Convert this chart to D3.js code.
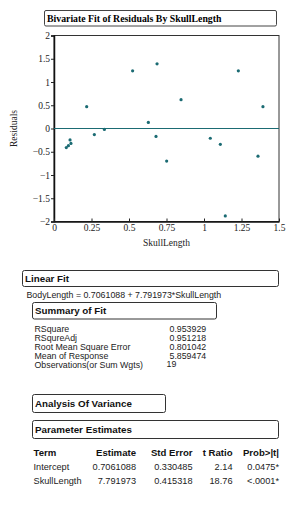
<!DOCTYPE html>
<html>
<head>
<meta charset="utf-8">
<script src="https://cdn.jsdelivr.net/npm/d3@7"></script>
<style>
  body { margin: 0; background: #fff; }
  .serif { font-family: "Liberation Serif", "Times New Roman", serif; }
  .narrow { font-family: "Liberation Sans Narrow", "Arial Narrow", "Liberation Sans", sans-serif; }
</style>
</head>
<body>
<div id="chart"></div>
<script>
// residual plot data
const skullLength = [0.082, 0.096, 0.107, 0.113, 0.218, 0.269, 0.336, 0.524, 0.629, 0.68,
  0.687, 0.751, 0.847, 1.042, 1.109, 1.142, 1.229, 1.36, 1.393]
const residuals = [-0.41, -0.37, -0.245, -0.32, 0.47, -0.13, -0.02, 1.24, 0.13, -0.17,
  1.39, -0.70, 0.62, -0.21, -0.34, -1.88, 1.24, -0.595, 0.47]
const xTicks = [0, 0.25, 0.5, 0.75, 1, 1.25, 1.5]
const yTicks = [-2, -1.5, -1, -0.5, 0, 0.5, 1, 1.5, 2]

// report text
const equation = "BodyLength = 0.7061088 + 7.791973*SkullLength"
const summaryLabels = ["RSquare", "RSqureAdj", "Root Mean Square Error", "Mean of Response", "Observations(or Sum Wgts)"]
const summaryValues = ["0.953929", "0.951218", "0.801042", "5.859474", "19"]
const paramHeader = ["Term", "Estimate", "Std Error", "t Ratio", "Prob>|t|"]
const paramTerms = ["Intercept", "SkullLength"]
const paramEstimate = ["0.7061088", "7.791973"]
const paramStdError = ["0.330485", "0.415318"]
const paramTRatio = ["2.14", "18.76"]
const paramProb = ["0.0475*", "<.0001*"]

const teal = "#1b6b73"

const svg = d3.select("#chart").append("svg")
  .attr("width", 306)
  .attr("height", 507)

// ---- title box
svg.append("rect")
  .attr("x", 44.5).attr("y", 10.5)
  .attr("width", 232).attr("height", 15.5)
  .attr("rx", 1.5)
  .attr("fill", "none").attr("stroke", "#444").attr("stroke-width", 1)
svg.append("text")
  .attr("class", "serif")
  .attr("x", 47).attr("y", 21.5)
  .attr("font-size", 9.8).attr("font-weight", "bold")
  .text("Bivariate Fit of Residuals By SkullLength")

// ---- scatter
const plot = { left: 54, right: 279, top: 35.5, bottom: 221.5 }
const xScale = d3.scaleLinear().domain([0, 1.5]).range([plot.left, plot.right])
const yScale = d3.scaleLinear().domain([-2, 2]).range([plot.bottom, plot.top])

svg.append("rect")
  .attr("x", plot.left).attr("y", plot.top)
  .attr("width", plot.right - plot.left).attr("height", plot.bottom - plot.top)
  .attr("fill", "none").attr("stroke", "#333").attr("stroke-width", 1)

const fmt = d => (d < 0 ? "\u2212" : "") + String(Math.abs(d))

const yAxis = svg.append("g")
  .attr("transform", `translate(${plot.left},0)`)
  .call(d3.axisLeft(yScale).tickValues(yTicks).tickSize(3).tickPadding(1).tickFormat(fmt))
yAxis.select(".domain").attr("stroke", "#111").attr("stroke-width", 1.5)
yAxis.selectAll("text").attr("class", "serif").attr("font-size", 9.5).attr("fill", "#222")
yAxis.selectAll(".tick line").attr("stroke", "#222")

const xAxis = svg.append("g")
  .attr("transform", `translate(0,${plot.bottom})`)
  .call(d3.axisBottom(xScale).tickValues(xTicks).tickSizeInner(-3).tickSizeOuter(0).tickPadding(3).tickFormat(d3.format("")))
xAxis.select(".domain").attr("stroke", "#111").attr("stroke-width", 1.5)
xAxis.selectAll("text").attr("class", "serif").attr("font-size", 9.5).attr("fill", "#222")
xAxis.selectAll(".tick line").attr("stroke", "#222")

svg.append("text")
  .attr("class", "serif")
  .attr("x", (plot.left + plot.right) / 2).attr("y", 246)
  .attr("text-anchor", "middle").attr("font-size", 9.5).attr("fill", "#222")
  .text("SkullLength")
svg.append("text")
  .attr("class", "serif")
  .attr("transform", `translate(17,${yScale(0)}) rotate(-90)`)
  .attr("text-anchor", "middle").attr("font-size", 9.5).attr("fill", "#222")
  .text("Residuals")

// zero line
svg.append("line")
  .attr("x1", plot.left).attr("x2", plot.right)
  .attr("y1", yScale(0)).attr("y2", yScale(0))
  .attr("stroke", teal).attr("stroke-width", 1.2)

svg.append("g").selectAll("circle")
  .data(skullLength.map((d, i) => ({ x: d, y: residuals[i] })))
  .join("circle")
    .attr("cx", d => xScale(d.x))
    .attr("cy", d => yScale(d.y))
    .attr("r", 1.6)
    .attr("fill", teal)

// ---- report boxes
const box = (x, y, w, h, label) => {
  svg.append("rect")
    .attr("x", x).attr("y", y).attr("width", w).attr("height", h)
    .attr("rx", 2)
    .attr("fill", "none").attr("stroke", "#333").attr("stroke-width", 1)
  svg.append("text")
    .attr("class", "narrow")
    .attr("x", x + 2.5).attr("y", y + h / 2 + 3.4)
    .attr("font-size", 9.8).attr("font-weight", "bold").attr("fill", "#111")
    .text(label)
}

box(22.5, 270.5, 256, 16, "Linear Fit")
svg.append("text")
  .attr("class", "narrow")
  .attr("x", 26.5).attr("y", 298)
  .attr("font-size", 8.8).attr("fill", "#222")
  .text(equation)

box(32.5, 302.5, 184, 16.5, "Summary of Fit")
summaryLabels.forEach((label, i) => {
  const y = 331.5 + i * 9.1
  svg.append("text").attr("class", "narrow")
    .attr("x", 34.5).attr("y", y).attr("font-size", 8.8).attr("fill", "#222")
    .text(label)
  svg.append("text").attr("class", "narrow")
    .attr("x", i === 4 ? 166.5 : 169.5).attr("y", i === 4 ? y - 0.5 : y)
    .attr("font-size", 8.8).attr("fill", "#222")
    .text(summaryValues[i])
})

box(32.5, 394.5, 133, 18, "Analysis Of Variance")
box(32.5, 420.5, 246, 18, "Parameter Estimates")

// parameter estimates table
const colRight = [null, 136, 192.5, 232.5, 279]
const columns = [paramTerms, paramEstimate, paramStdError, paramTRatio, paramProb]
paramHeader.forEach((h, j) => {
  svg.append("text").attr("class", "narrow")
    .attr("x", j === 0 ? 33.5 : colRight[j]).attr("y", 455.8)
    .attr("text-anchor", j === 0 ? "start" : "end")
    .attr("font-size", 9.6).attr("font-weight", "bold").attr("fill", "#111")
    .text(h)
})
paramTerms.forEach((t, i) => {
  const y = 470 + i * 14
  columns.forEach((col, j) => {
    svg.append("text").attr("class", "narrow")
      .attr("x", j === 0 ? 33.5 : colRight[j]).attr("y", y)
      .attr("text-anchor", j === 0 ? "start" : "end")
      .attr("font-size", 9.2).attr("fill", "#222")
      .text(col[i])
  })
})
</script>
</body>
</html>
